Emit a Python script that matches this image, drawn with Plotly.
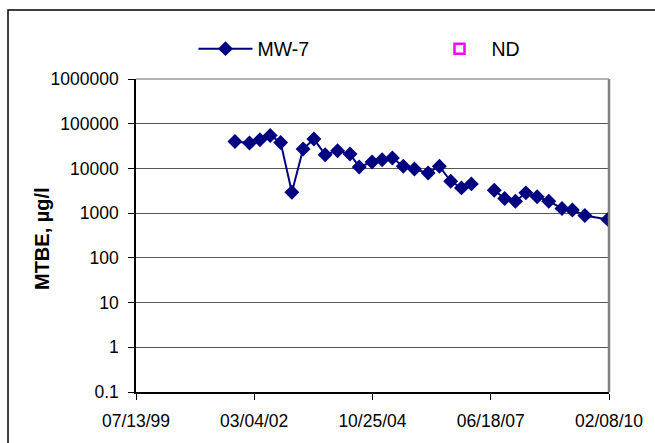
import plotly.graph_objects as go

# MW-7 MTBE concentrations (µg/l); None = gap (non-detect sample)
dates = [
    "2001-09-28", "2002-01-25", "2002-04-20", "2002-07-13", "2002-10-06",
    "2003-01-06", "2003-04-08", "2003-07-05", "2003-10-05", "2004-01-14",
    "2004-04-25", "2004-07-09", "2004-10-22", "2005-01-12", "2005-04-06",
    "2005-07-04", "2005-10-03", "2006-01-23", "2006-04-25", "2006-07-26",
    "2006-10-22", "2007-01-11", "2007-04-15", "2007-07-17", "2007-10-10",
    "2008-01-06", "2008-03-31", "2008-07-01", "2008-10-04", "2009-01-20",
    "2009-04-15", "2009-07-26", "2010-01-29",
]
mtbe = [
    40200, 36900, 43700, 54700, 38200,
    2940, 27200, 45300, 20300, 24900,
    21000, 10800, 13900, 15700, 17100,
    11200, 9730, 7930, 11200, 5170,
    3670, 4510, None, 3260, 2120,
    1850, 2840, 2320, 1850, 1270,
    1170, 889, 725,
]

x_tick_dates = ["1999-07-13", "2002-03-04", "2004-10-25", "2007-06-18", "2010-02-08"]
x_tick_text = ["07/13/99", "03/04/02", "10/25/04", "06/18/07", "02/08/10"]
y_tick_vals = [0.1, 1, 10, 100, 1000, 10000, 100000, 1000000]
y_tick_text = ["0.1", "1", "10", "100", "1000", "10000", "100000", "1000000"]

FONT = "Liberation Sans, Arial, sans-serif"
NAVY = "#000080"

fig = go.Figure()
fig.add_trace(go.Scatter(
    x=dates, y=mtbe, name="MW-7", mode="lines+markers",
    line=dict(color=NAVY, width=2),
    marker=dict(symbol="diamond", size=11.5, color=NAVY),
    connectgaps=False, legend="legend",
))
fig.add_trace(go.Scatter(
    x=[None], y=[None], name="ND", mode="markers",
    marker=dict(symbol="square-open", size=10, color="#FF00FF",
                line=dict(width=2.5, color="#FF00FF")),
    legend="legend2",
))

legend_common = dict(
    orientation="h", y=1.096, xanchor="left", yanchor="middle",
    font=dict(size=19.5), itemwidth=54, bgcolor="rgba(0,0,0,0)",
)

fig.update_layout(
    width=655, height=443,
    margin=dict(l=136, r=46, t=79, b=51),
    paper_bgcolor="white", plot_bgcolor="white",
    font=dict(family=FONT, size=17.5, color="black"),
    showlegend=True,
    legend=dict(x=0.1215, **legend_common),
    legend2=dict(x=0.6163, **legend_common),
    xaxis=dict(
        type="date", range=["1999-07-13", "2010-02-08"],
        tickvals=x_tick_dates, ticktext=x_tick_text,
        showgrid=False, showline=True, linecolor="black", linewidth=1.5,
        ticks="outside", ticklen=6, tickcolor="black",
        ticklabelstandoff=6, zeroline=False,
    ),
    yaxis=dict(
        type="log", range=[-1, 6],
        tickvals=y_tick_vals, ticktext=y_tick_text,
        showgrid=True, gridcolor="#555555", gridwidth=1,
        showline=True, linecolor="black", linewidth=1.5,
        ticks="outside", ticklen=6, tickcolor="black",
        ticklabelstandoff=6, zeroline=False,
    ),
    annotations=[dict(
        text="<b>MTBE, µg/l</b>", textangle=-90, showarrow=False,
        xref="paper", yref="paper", x=-0.2, y=0.49,
        xanchor="center", yanchor="middle", font=dict(size=20),
    )],
    shapes=[
        # plot-area frame (grey right/top edge)
        dict(type="line", xref="paper", yref="paper", x0=1, x1=1, y0=0, y1=1,
             line=dict(color="#808080", width=2.5)),
        dict(type="line", xref="paper", yref="paper", x0=0, x1=1, y0=1, y1=1,
             line=dict(color="#9a9a9a", width=1.5)),
        # chart-area outer border
        dict(type="rect", xref="paper", yref="paper",
             x0=-0.2706, x1=1.2, y0=-0.3, y1=1.2204,
             line=dict(color="black", width=1.5)),
    ],
)

fig.write_html("out.html", config={"displayModeBar": False},
               post_script="document.body.style.margin='0';")
